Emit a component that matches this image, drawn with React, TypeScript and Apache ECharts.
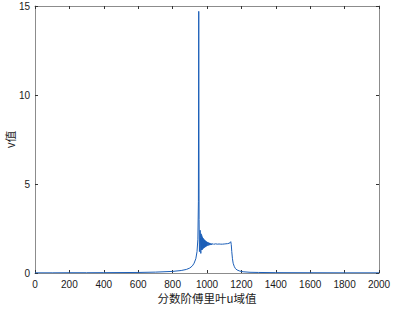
import React, { useEffect, useRef } from "react";
import * as echarts from "echarts";

const xTicks = [0, 200, 400, 600, 800, 1000, 1200, 1400, 1600, 1800, 2000];
const yTicks = [0, 5, 10, 15];
const uValues = [
  0, 100, 200, 300, 400, 500, 600, 700, 750, 800, 850, 880, 900, 915, 925, 935, 942, 947, 950, 952,
  954, 956, 958, 960, 962, 964, 966, 968, 970, 972, 974, 976, 978, 980, 982, 984, 986, 988, 990, 992,
  994, 996, 998, 1000, 1003, 1006, 1009, 1012, 1015, 1018, 1022, 1026, 1030, 1035, 1040, 1045, 1050,
  1060, 1070, 1080, 1090, 1100, 1110, 1120, 1128, 1134, 1138, 1141, 1144, 1148, 1152, 1158, 1165,
  1175, 1190, 1210, 1250, 1300, 1400, 1600, 1800, 2000,
];
const vValues = [
  0.01, 0.01, 0.015, 0.015, 0.02, 0.025, 0.03, 0.05, 0.07, 0.09, 0.14, 0.2, 0.28, 0.4, 0.55, 0.8, 1.2, 1.9, 4, 14.7,
  3, 1.2, 1.6, 2.4, 2.0, 1.1, 2.2, 1.3, 2.1, 1.3, 2.0, 1.35, 1.95, 1.4, 1.9, 1.42, 1.85, 1.45, 1.82, 1.48,
  1.78, 1.5, 1.76, 1.52, 1.73, 1.54, 1.71, 1.56, 1.69, 1.57, 1.67, 1.58, 1.66, 1.6, 1.65, 1.61, 1.64,
  1.62, 1.63, 1.62, 1.62, 1.63, 1.64, 1.65, 1.67, 1.7, 1.76, 1.6, 1.2, 0.8, 0.55, 0.38, 0.25,
  0.17, 0.11, 0.07, 0.04, 0.03, 0.02, 0.015, 0.01, 0.01,
];
const xName = "分数阶傅里叶u域值";
const yName = "v值";

export default function App() {
  const ref = useRef<HTMLDivElement>(null);
  useEffect(() => {
    if (!ref.current) return;
    document.body.style.margin = "0";
    const chart = echarts.init(ref.current, undefined, { renderer: "svg" });
    const axisColor = "#8c8c8c";
    const fmt = (v: number) => String(v);
    const labelStyle = { color: "#1a1a1a", fontSize: 10, fontFamily: "Liberation Sans, Arial, sans-serif", formatter: fmt };
    const xBase = {
      type: "value" as const,
      min: xTicks[0],
      max: xTicks[xTicks.length - 1],
      interval: 200,
      splitLine: { show: false },
      axisLine: { show: true, onZero: false, lineStyle: { color: axisColor, width: 1 } },
      axisTick: { show: true, inside: true, length: 3, lineStyle: { color: "#333" } },
    };
    const yBase = {
      type: "value" as const,
      min: yTicks[0],
      max: yTicks[yTicks.length - 1],
      interval: 5,
      splitLine: { show: false },
      axisLine: { show: true, onZero: false, lineStyle: { color: axisColor, width: 1 } },
      axisTick: { show: true, inside: true, length: 3, lineStyle: { color: "#333" } },
    };
    chart.setOption({
      animation: false,
      backgroundColor: "#ffffff",
      grid: { left: 35, right: 14, top: 6, bottom: 36, containLabel: false, outerBoundsMode: "none" },
      xAxis: [
        {
          ...xBase,
          position: "bottom",
          axisLabel: { ...labelStyle, margin: 6 },
          name: xName,
          nameLocation: "middle",
          nameGap: 19,
          nameMoveOverlap: false,
          nameTextStyle: { color: "#1a1a1a", fontSize: 11.5, fontFamily: "Noto Sans CJK SC, sans-serif" },
        },
        { ...xBase, position: "top", axisLabel: { show: false } },
      ],
      yAxis: [
        {
          ...yBase,
          position: "left",
          axisLabel: { ...labelStyle, margin: 5 },
          name: yName,
          nameLocation: "middle",
          nameGap: 19,
          nameMoveOverlap: false,
          nameTextStyle: { color: "#1a1a1a", fontSize: 11.5, fontFamily: "Noto Sans CJK SC, sans-serif" },
        },
        { ...yBase, position: "right", axisLabel: { show: false } },
      ],
      series: [
        {
          type: "line",
          data: uValues.map((u, i) => [u, vValues[i]]),
          showSymbol: false,
          symbol: "none",
          lineStyle: { color: "#1c5fb8", width: 1 },
          clip: true,
        },
      ],
    });
    return () => chart.dispose();
  }, []);
  return <div ref={ref} style={{ position: "absolute", left: 0, top: 0, width: 393, height: 309 }} />;
}
